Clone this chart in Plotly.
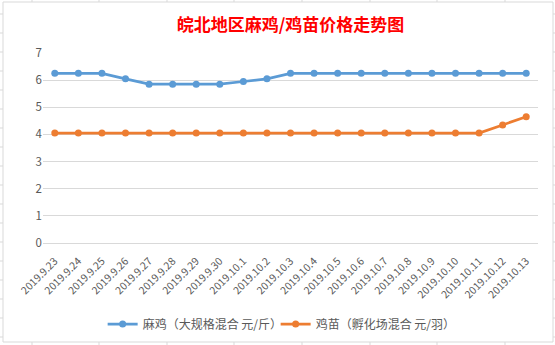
import plotly.graph_objects as go

categories = ["2019.9.23", "2019.9.24", "2019.9.25", "2019.9.26", "2019.9.27", "2019.9.28",
              "2019.9.29", "2019.9.30", "2019.10.1", "2019.10.2", "2019.10.3", "2019.10.4",
              "2019.10.5", "2019.10.6", "2019.10.7", "2019.10.8", "2019.10.9", "2019.10.10",
              "2019.10.11", "2019.10.12", "2019.10.13"]
maji = [6.25, 6.25, 6.25, 6.05, 5.85, 5.85, 5.85, 5.85, 5.95, 6.05, 6.25, 6.25,
        6.25, 6.25, 6.25, 6.25, 6.25, 6.25, 6.25, 6.25, 6.25]
jimiao = [4.05, 4.05, 4.05, 4.05, 4.05, 4.05, 4.05, 4.05, 4.05, 4.05, 4.05, 4.05,
          4.05, 4.05, 4.05, 4.05, 4.05, 4.05, 4.05, 4.35, 4.65]
series_names = ["麻鸡（大规格混合 元/斤）", "鸡苗（孵化场混合 元/羽）"]
y_ticks = [0, 1, 2, 3, 4, 5, 6, 7]

W, H = 555, 345
L, R, T, B = 43, 17, 53, 102
pw, ph = W - L - R, H - T - B

def px(x):
    return (x - L) / pw

def py(y):
    return (H - B - y) / ph

FONT = "Noto Sans CJK SC"
fig = go.Figure()
fig.add_trace(go.Scatter(x=categories, y=maji, name=series_names[0], mode="lines+markers",
                         line=dict(color="#5B9BD5", width=2.75),
                         marker=dict(color="#5B9BD5", size=7)))
fig.add_trace(go.Scatter(x=categories, y=jimiao, name=series_names[1], mode="lines+markers",
                         line=dict(color="#ED7D31", width=2.75),
                         marker=dict(color="#ED7D31", size=7)))

shapes = []
gc = "#D9D9D9"
# chart border
shapes.append(dict(type="rect", xref="paper", yref="paper", x0=px(3), x1=px(553), y0=py(2), y1=py(342),
                   line=dict(color=gc, width=1), layer="below"))
# spreadsheet grid stubs outside the chart
for xs in [32, 99, 167, 234, 302, 370, 437, 505]:
    shapes.append(dict(type="line", xref="paper", yref="paper", x0=px(xs), x1=px(xs), y0=py(0), y1=py(2),
                       line=dict(color=gc, width=1)))
    shapes.append(dict(type="line", xref="paper", yref="paper", x0=px(xs), x1=px(xs), y0=py(342), y1=py(345),
                       line=dict(color=gc, width=1)))
for ys in range(14, 345, 19):
    shapes.append(dict(type="line", xref="paper", yref="paper", x0=px(0), x1=px(3), y0=py(ys), y1=py(ys),
                       line=dict(color=gc, width=1)))
    shapes.append(dict(type="line", xref="paper", yref="paper", x0=px(553), x1=px(555), y0=py(ys), y1=py(ys),
                       line=dict(color=gc, width=1)))

fig.update_layout(
    width=W, height=H,
    margin=dict(l=L, r=R, t=T, b=B, pad=0, autoexpand=False),
    paper_bgcolor="white", plot_bgcolor="white",
    font=dict(family=FONT, color="#595959", size=11),
    title=dict(text="皖北地区麻鸡/鸡苗价格走势图", x=0.5, xref="paper", xanchor="center",
               y=1 - 25 / H, yanchor="middle",
               font=dict(family=FONT, size=17, color="#FF0000", weight="bold")),
    xaxis=dict(type="category", tickangle=-45, showgrid=False, showline=False, zeroline=False,
               ticks="", ticklabelstandoff=9, tickfont=dict(size=10.5, color="#595959", family=FONT),
               range=[-0.5, len(categories) - 0.5], automargin=False),
    yaxis=dict(range=[0, 7], tickvals=y_ticks, showgrid=True, gridcolor=gc, gridwidth=1,
               zeroline=True, zerolinecolor=gc, zerolinewidth=1, showline=False, ticks="",
               ticksuffix="  ", tickfont=dict(size=11.5, color="#595959", family=FONT),
               automargin=False),
    legend=dict(orientation="h", x=0.47, xanchor="center", y=py(324), yanchor="middle",
                font=dict(size=12, color="#595959", family=FONT), itemwidth=30,
                entrywidth=128, entrywidthmode="pixels",
                bgcolor="rgba(0,0,0,0)"),
    shapes=shapes,
)

fig.write_html("out.html")
